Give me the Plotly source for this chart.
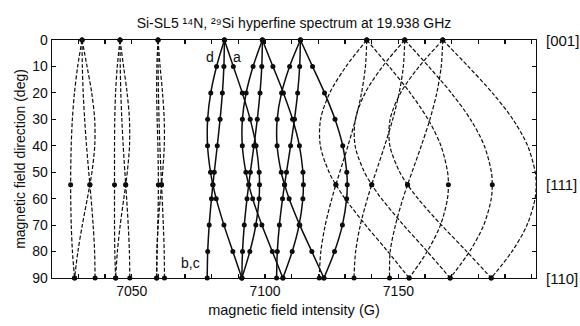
import plotly.graph_objects as go

# Rotation angle of B from [001] through [111] to [110] (deg)
ANGLES = [0, 10, 20, 30, 40, 50, 54.7, 60, 70, 80, 90]
# angles at which the 29Si satellite lines were measured
SAT_ANGLES = [0, 54.7, 90]

# Line positions (G); rows are the three 14N hyperfine components, low to high field
SITE_A_CENTRAL = [
    [7084.75, 7088.10, 7091.46, 7094.43, 7096.63, 7097.78, 7097.92, 7097.76, 7096.54, 7094.29, 7091.29],
    [7099.00, 7102.95, 7106.88, 7110.33, 7112.88, 7114.21, 7114.37, 7114.18, 7112.77, 7110.17, 7106.68],
    [7113.25, 7117.80, 7122.30, 7126.23, 7129.13, 7130.64, 7130.82, 7130.60, 7129.00, 7126.05, 7122.07],
]
SITE_D_CENTRAL = [
    [7084.75, 7081.81, 7079.63, 7078.46, 7078.43, 7079.54, 7080.43, 7081.67, 7084.58, 7087.92, 7091.29],
    [7099.00, 7095.51, 7092.91, 7091.50, 7091.47, 7092.80, 7093.87, 7095.35, 7098.80, 7102.73, 7106.68],
    [7113.25, 7109.21, 7106.19, 7104.54, 7104.51, 7106.06, 7107.31, 7109.03, 7113.02, 7117.54, 7122.07],
]
SITE_BC_CENTRAL = [
    [7084.75, 7084.56, 7083.99, 7083.13, 7082.07, 7080.95, 7080.43, 7079.90, 7079.05, 7078.49, 7078.30],
    [7099.00, 7098.77, 7098.10, 7097.08, 7095.82, 7094.49, 7093.87, 7093.23, 7092.21, 7091.54, 7091.31],
    [7113.25, 7112.98, 7112.21, 7111.03, 7109.57, 7108.03, 7107.31, 7106.56, 7105.37, 7104.59, 7104.32],
]

# 29Si satellites, low-field side
SITE_A_SI_LOW = [
    [7031.36, 7029.73, 7028.52, 7027.74, 7027.30, 7027.11, 7027.09, 7027.12, 7027.32, 7027.77, 7028.57],
    [7045.61, 7044.58, 7043.94, 7043.64, 7043.55, 7043.54, 7043.54, 7043.54, 7043.55, 7043.65, 7043.96],
    [7059.86, 7059.43, 7059.36, 7059.54, 7059.80, 7059.97, 7059.99, 7059.96, 7059.78, 7059.53, 7059.35],
]
SITE_D_SI_LOW = [
    [7031.36, 7033.24, 7034.99, 7036.10, 7036.13, 7035.07, 7034.30, 7033.34, 7031.46, 7029.81, 7028.57],
    [7045.61, 7046.94, 7048.27, 7049.14, 7049.17, 7048.33, 7047.74, 7047.02, 7045.68, 7044.62, 7043.96],
    [7059.86, 7060.64, 7061.55, 7062.18, 7062.21, 7061.59, 7061.18, 7060.70, 7059.90, 7059.43, 7059.35],
]
SITE_BC_SI_LOW = [
    [7031.36, 7031.48, 7031.80, 7032.34, 7033.05, 7033.89, 7034.30, 7034.76, 7035.53, 7036.07, 7036.26],
    [7045.61, 7045.69, 7045.91, 7046.29, 7046.80, 7047.43, 7047.74, 7048.09, 7048.69, 7049.12, 7049.27],
    [7059.86, 7059.90, 7060.02, 7060.24, 7060.55, 7060.97, 7061.18, 7061.42, 7061.85, 7062.17, 7062.28],
]

# 29Si satellites, high-field side
SITE_A_SI_HIGH = [
    [7138.14, 7146.47, 7154.40, 7161.12, 7165.96, 7168.45, 7168.75, 7168.40, 7165.76, 7160.81, 7154.01],
    [7152.39, 7161.32, 7169.82, 7177.02, 7182.21, 7184.88, 7185.20, 7184.82, 7181.99, 7176.69, 7169.40],
    [7166.64, 7176.17, 7185.24, 7192.92, 7198.46, 7201.31, 7201.65, 7201.24, 7198.22, 7192.57, 7184.79],
]
SITE_D_SI_HIGH = [
    [7138.14, 7130.38, 7124.27, 7120.82, 7120.73, 7124.01, 7126.56, 7130.00, 7137.70, 7146.03, 7154.01],
    [7152.39, 7144.08, 7137.55, 7133.86, 7133.77, 7137.27, 7140.00, 7143.68, 7151.92, 7160.84, 7169.40],
    [7166.64, 7157.78, 7150.83, 7146.90, 7146.81, 7150.53, 7153.44, 7157.36, 7166.14, 7175.65, 7184.79],
]
SITE_BC_SI_HIGH = [
    [7138.14, 7137.64, 7136.18, 7133.92, 7131.09, 7128.01, 7126.56, 7125.04, 7122.57, 7120.91, 7120.32],
    [7152.39, 7151.85, 7150.29, 7147.87, 7144.84, 7141.55, 7140.00, 7138.37, 7135.73, 7133.96, 7133.35],
    [7166.64, 7166.06, 7164.40, 7161.82, 7158.59, 7155.09, 7153.44, 7151.70, 7148.89, 7146.92, 7146.68],
]

X_LABELED = [7050, 7100, 7150]
Y_TICKS = list(range(0, 91, 10))

FONT = "Liberation Sans, Arial, sans-serif"
INK = "#0d0d0d"

fig = go.Figure()


def add_branch(rows, dashed):
    for row in rows:
        fig.add_trace(go.Scatter(
            x=row, y=ANGLES, mode="lines",
            line=dict(color=INK, width=1.2 if dashed else 1.5,
                      dash="4px,2px" if dashed else "solid",
                      shape="spline", smoothing=0.9),
            hoverinfo="skip", showlegend=False, cliponaxis=False,
        ))
        if dashed:
            mx = [row[ANGLES.index(a)] for a in SAT_ANGLES]
            my = SAT_ANGLES
        else:
            mx, my = row, ANGLES
        fig.add_trace(go.Scatter(
            x=mx, y=my, mode="markers",
            marker=dict(color=INK, size=5),
            hoverinfo="skip", showlegend=False, cliponaxis=False,
        ))


for tbl in (SITE_A_CENTRAL, SITE_D_CENTRAL, SITE_BC_CENTRAL):
    add_branch(tbl, dashed=False)
for tbl in (SITE_A_SI_LOW, SITE_D_SI_LOW, SITE_BC_SI_LOW,
            SITE_A_SI_HIGH, SITE_D_SI_HIGH, SITE_BC_SI_HIGH):
    add_branch(tbl, dashed=True)

axis_common = dict(
    showline=True, linecolor=INK, linewidth=1.3, mirror="ticks",
    ticks="inside", ticklen=4, tickcolor=INK, tickwidth=1.2,
    showgrid=False, zeroline=False,
    tickfont=dict(family=FONT, size=14, color=INK),
)

fig.update_xaxes(
    range=[7020.1, 7201.6],
    tickvals=X_LABELED,
    minor=dict(dtick=10, tick0=7000, ticks="inside", ticklen=4,
               tickcolor=INK, tickwidth=1.2, showgrid=False),
    title=dict(text="magnetic field intensity (G)", standoff=6,
               font=dict(family=FONT, size=14.5, color=INK)),
    **axis_common,
)
fig.update_yaxes(
    range=[90, 0],
    tickvals=Y_TICKS,
    title=dict(text="magnetic field direction (deg)", standoff=3,
               font=dict(family=FONT, size=14, color=INK)),
    **axis_common,
)

annotations = [
    dict(text="d", x=7079.3, y=6.4, showarrow=False,
         font=dict(family=FONT, size=14, color=INK)),
    dict(text="a", x=7089.4, y=6.6, showarrow=False,
         font=dict(family=FONT, size=14, color=INK)),
    dict(text="b,c", x=7072.2, y=84.3, showarrow=False,
         font=dict(family=FONT, size=14, color=INK)),
]
for label, deg in (("[001]", 0), ("[111]", 54.7), ("[110]", 90)):
    annotations.append(dict(text=label, x=1.0, xref="paper", y=deg, yref="y",
                            xanchor="left", xshift=8, showarrow=False,
                            font=dict(family=FONT, size=15, color=INK)))

fig.update_layout(
    width=580, height=326,
    margin=dict(l=52, r=44, t=40, b=48),
    paper_bgcolor="white", plot_bgcolor="white",
    title=dict(text="Si-SL5 \u00b9\u2074N, \u00b2\u2079Si hyperfine spectrum at 19.938 GHz",
               x=0.5, xref="paper", xanchor="center",
               y=1.0, yref="paper", yanchor="bottom", pad=dict(b=12),
               font=dict(family=FONT, size=14, color=INK)),
    annotations=annotations,
)

fig.write_html("out.html", include_plotlyjs=True,
               config={"displayModeBar": False, "staticPlot": True})
